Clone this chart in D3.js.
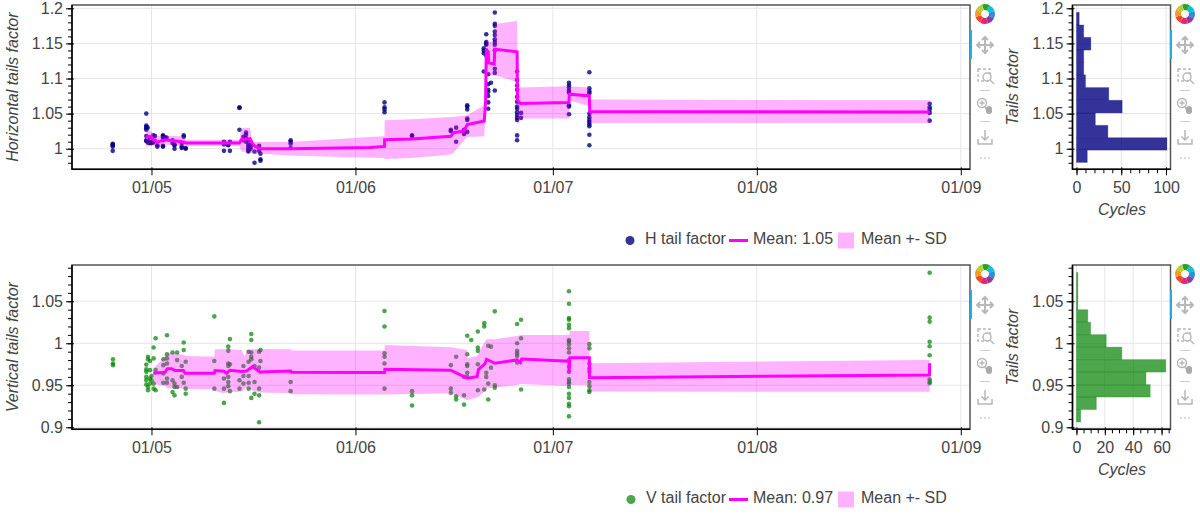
<!DOCTYPE html>
<html>
<head>
<meta charset="utf-8">
<script src="https://cdn.jsdelivr.net/npm/d3@7"></script>
<style>
  body { margin: 0; background: white; }
  text { font-family: "Liberation Sans", Arial, sans-serif; }
</style>
</head>
<body>
<svg id="chart" width="1200" height="520"></svg>
<script>
// days since 1 May, one entry per column of samples
var hDays = [-5.89, -0.79, -0.58, -0.33, 0, 0.28, 0.53, 0.89, 1.75, 2.05, 2.3, 3.2, 3.5, 4.6, 4.9, 5.2,
  11.01, 11.67, 11.92, 13.37, 13.97, 14.37, 14.72, 15.07, 15.66, 16.36, 16.56, 21.15,
  35.42, 39.6, 45.5, 46.3, 47.5, 47.99, 50.5, 50.88, 51.18, 51.6, 52.18, 55.57, 56.17, 63.45, 66.55, 118.27]
var hValues = [
  [1.007, 1.006, 1.005, 1.003, 0.997],
  [1.05, 1.033, 1.031, 1.029, 1.027, 1.018, 1.012, 1.011],
  [1.03, 1.014, 1.009],
  [1.016, 1.009, 1.008],
  [1.008, 1.01],
  [1.019, 1.011, 1.009],
  [1.018, 1.011],
  [1.005, 1.003],
  [1.019, 1.018, 1.016, 1.012, 1.004, 1.003],
  [1.016, 1.014],
  [1.016],
  [1.012, 1.008],
  [1.006, 1.005, 1.0],
  [1.008, 1.003, 1.001],
  [1.019, 1.017],
  [1.0, 1.001],
  [1.01, 1.006, 0.997],
  [1.006, 1.005],
  [1.01, 0.997],
  [1.059, 1.058, 1.027],
  [1.017, 1.012],
  [1.023, 1.02, 1.015, 1.01],
  [1.012, 1.006, 1.003, 1.0, 0.998, 0.996],
  [1.006, 1.003, 1.0],
  [0.996, 0.98],
  [1.004, 0.997],
  [0.993, 0.985, 0.983],
  [1.012, 1.01, 1.007, 1.001],
  [1.066, 1.059, 1.056, 1.052],
  [1.019, 1.018],
  [1.027, 1.025],
  [1.03, 1.01],
  [1.027, 1.021],
  [1.062, 1.06, 1.056, 1.043, 1.041, 1.024],
  [1.143, 1.14, 1.136, 1.11],
  [1.163, 1.152, 1.15, 1.148, 1.14, 1.137, 1.133],
  [1.106, 1.092, 1.084, 1.081, 1.075, 1.066, 1.057],
  [1.094],
  [1.194, 1.178, 1.175, 1.167, 1.162, 1.156, 1.152, 1.148, 1.14, 1.114, 1.108, 1.083],
  [1.11, 1.098, 1.09, 1.084, 1.074, 1.067, 1.06, 1.057, 1.052, 1.048, 1.044, 1.041, 1.019, 1.012],
  [1.051, 1.044],
  [1.094, 1.09, 1.087, 1.083, 1.08, 1.062, 1.06, 1.049],
  [1.109, 1.086, 1.082, 1.079, 1.05, 1.045, 1.041, 1.038, 1.035, 1.032, 1.02, 1.005],
  [1.064, 1.059, 1.056, 1.051, 1.04]
]

var hMeanDays = [-0.79, -0.6, 0, 0.28, 0.89, 2.05, 3.3, 4.9, 5.2, 13.37, 13.67, 14.97, 15.36, 15.76, 16.56, 21.15,
  33.22, 35.42, 35.43, 39.6, 45.5, 45.9, 47.5, 47.99, 50.58, 50.78, 50.88, 51.18, 51.23, 52.08, 52.18, 55.57, 55.62, 56.07, 63.45, 63.5, 66.55, 66.6, 118.27]
var hMean = [1.0143, 1.0176, 1.0167, 1.013, 1.0095, 1.0129, 1.0115, 1.0095, 1.0081, 1.0081, 1.0129, 1.0143, 1.0071, 1.0033, 1.0, 1.0,
  1.0019, 1.0033, 1.0129, 1.0138, 1.0176, 1.0229, 1.0252, 1.0343, 1.0395, 1.0676, 1.1395, 1.138, 1.1224, 1.1205, 1.1419, 1.138, 1.069, 1.0643, 1.0657, 1.0776, 1.0752, 1.0529, 1.0523]
var hUpper = [1.0286, 1.0286, 1.024, 1.021, 1.018, 1.018, 1.018, 1.0176, 1.0129, 1.0129, 1.029, 1.03, 1.009, 1.0095, 1.0095, 1.0095,
  1.0167, 1.0176, 1.0405, 1.0419, 1.0452, 1.0452, 1.0471, 1.0476, 1.0619, 1.0738, 1.157, 1.1548, 1.152, 1.152, 1.1776, 1.1819, 1.0871, 1.0871, 1.089, 1.089, 1.0871, 1.07, 1.069]
var hLower = [1.0, 1.004, 1.009, 1.005, 1.002, 1.006, 1.005, 1.004, 1.0043, 1.0043, 0.996, 0.9952, 0.993, 0.993, 0.9929, 0.9905,
  0.9871, 0.9867, 0.9852, 0.9867, 0.9919, 0.9938, 1.0119, 1.0167, 1.0176, 1.0619, 1.1048, 1.1048, 1.1048, 1.1048, 1.1048, 1.0952, 1.0333, 1.0429, 1.0429, 1.069, 1.0605, 1.0367, 1.0366]

var vDays = [-5.85, -0.79, -0.53, -0.23, 0, 0.33, 0.63, 1.8, 2.36, 3.2, 3.5, 3.9, 4.6, 4.9, 5.2, 9.55, 11.01, 11.67, 11.92,
  13.37, 13.97, 14.77, 15.17, 15.66, 16.36, 16.56, 21.15, 35.42, 39.6, 45.5, 46.3, 47.5, 47.99, 48.6, 49.6, 50.58, 50.88, 51.18, 51.6, 52.18, 55.57, 56.17, 63.45, 66.55, 118.27]
var vValues = [
  [0.981, 0.976, 0.974],
  [0.9746, 0.969, 0.966, 0.96, 0.956, 0.951],
  [0.984, 0.981, 0.948, 0.944],
  [0.979, 0.968, 0.958, 0.952],
  [0.961, 0.956],
  [0.995, 0.982, 0.952, 0.946],
  [1.006, 0.968, 0.944],
  [0.981, 0.974, 0.964, 0.953],
  [1.0095, 0.987, 0.982, 0.976, 0.958, 0.953],
  [0.989, 0.956, 0.942],
  [0.952, 0.948, 0.938],
  [0.989, 0.98, 0.948],
  [0.973, 0.96],
  [1.001, 0.992, 0.953],
  [0.978, 0.946, 0.94],
  [1.032, 0.979, 0.946],
  [0.958, 0.946, 0.929],
  [0.996, 0.991, 0.976, 0.973, 0.96, 0.954, 0.949],
  [1.005, 0.975, 0.943],
  [0.956, 0.946],
  [0.973, 0.961, 0.952],
  [0.99, 0.978, 0.961, 0.953, 0.946],
  [1.011, 1.004, 0.989, 0.984, 0.981, 0.935],
  [0.973, 0.954, 0.94],
  [0.99, 0.971, 0.946, 0.938, 0.906],
  [0.992, 0.979],
  [0.954, 0.943],
  [1.0385, 1.02, 0.988, 0.984, 0.976, 0.946],
  [0.943, 0.938, 0.926],
  [0.974, 0.946, 0.941],
  [0.984, 0.937, 0.933],
  [0.96, 0.938, 0.927],
  [1.009, 0.987, 0.975, 0.973, 0.965, 0.96],
  [1.004],
  [1.014, 0.995, 0.991, 0.975, 0.944],
  [1.024, 1.02, 0.945],
  [0.965, 0.96],
  [0.997, 0.952, 0.933],
  [0.996, 0.971],
  [1.038, 0.95, 0.947],
  [1.023, 1.0, 0.991, 0.988, 0.985, 0.977],
  [1.028, 1.006, 0.945],
  [1.062, 1.047, 1.03, 1.028, 1.022, 1.018, 1.004, 1.002, 0.999, 0.994, 0.989, 0.98, 0.972, 0.966, 0.957, 0.954, 0.952, 0.948, 0.94, 0.935, 0.928, 0.925, 0.913],
  [0.999, 0.994, 0.976, 0.97, 0.966, 0.954, 0.949, 0.944, 0.942],
  [1.084, 1.0305, 1.0257, 1.0019, 0.9964, 0.9857, 0.9571, 0.9543, 0.9524]
]

var vMeanDays = [0.28, 2.05, 2.41, 3.07, 3.58, 4.85, 5.1, 9.55, 9.65, 11.01, 11.42, 11.92, 13.7, 14.2, 14.47, 15.36, 16.46, 21.15, 21.3,
  33.22, 35.42, 35.47, 45.5, 47.99, 48.04, 49.5, 49.7, 50.68, 50.93, 52.18, 55.57, 56.07, 56.27, 63.45, 63.47, 63.6, 66.55, 66.57, 118.24, 118.27]
var vMean = [0.9643, 0.9655, 0.9698, 0.9698, 0.9675, 0.9675, 0.9643, 0.9643, 0.9675, 0.9667, 0.9643, 0.9679, 0.9663, 0.9667, 0.9671, 0.9722, 0.9659, 0.9671, 0.9655,
  0.9651, 0.9651, 0.969, 0.9679, 0.9583, 0.9583, 0.9603, 0.969, 0.9754, 0.981, 0.9762, 0.9802, 0.977, 0.9813, 0.9786, 0.9651, 0.9829, 0.9829, 0.9591, 0.9623, 0.9762]
var vUpper = [0.9702, 0.9833, 0.9881, 0.9889, 0.9881, 0.9861, 0.9849, 0.9841, 0.9929, 0.9929, 0.9929, 0.9929, 0.9921, 0.9841, 0.9921, 0.9929, 0.9933, 0.9929, 0.9913,
  0.9913, 0.9913, 0.998, 0.9952, 0.9921, 0.9821, 0.9849, 0.9881, 1.002, 1.0048, 1.0048, 1.0087, 1.0099, 1.0099, 1.0099, 1.0099, 1.0147, 1.0147, 0.9762, 0.9801, 0.9801]
var vLower = [0.9516, 0.9492, 0.9464, 0.9464, 0.9464, 0.946, 0.946, 0.9452, 0.9433, 0.9405, 0.9413, 0.9417, 0.9425, 0.9464, 0.9464, 0.9437, 0.9413, 0.9405, 0.9393,
  0.9389, 0.9389, 0.9389, 0.9405, 0.9325, 0.9325, 0.9357, 0.9365, 0.9433, 0.9464, 0.9472, 0.9504, 0.9516, 0.9516, 0.9492, 0.9492, 0.9504, 0.9504, 0.9425, 0.9424, 0.9424]

// histogram counts, top bin first
var hBinEdges = [1.1943, 1.1762, 1.1586, 1.1405, 1.1229, 1.1052, 1.0871, 1.069, 1.051, 1.0333, 1.0157, 0.998, 0.9805]
var hCounts = [3, 8, 16, 8, 8, 10, 36, 51, 21, 35, 101, 12]
var vBinEdges = [1.0845, 1.0697, 1.0548, 1.04, 1.0251, 1.0103, 0.9954, 0.9806, 0.9657, 0.9508, 0.936, 0.9211, 0.9063]
var vCounts = [1, 1, 1, 8, 10, 21, 32, 63, 49, 52, 14, 3]

var xTickDays = [0, 31, 61, 92, 123]

var svg = d3.select("#chart")
var startDate = Date.UTC(2022, 4, 1)
var toDate = d => new Date(startDate + d * 864e5)

var dims = {
  mainLeft: 72, mainRight: 970,
  histLeft: 1072.5, histRight: 1170.5,
  top: [5, 265], bottom: [169.3, 429.3]
}

var textColor = "#444"
var gridColor = "#e5e5e5"

function frame(g, x0, x1, y0, y1) {
  g.append("rect")
    .attr("x", x0).attr("y", y0)
    .attr("width", x1 - x0).attr("height", y1 - y0)
    .attr("fill", "none")
    .attr("stroke", "#555")
    .attr("stroke-width", 1.5)
  g.append("line").attr("x1", x0).attr("x2", x0).attr("y1", y0).attr("y2", y1 + 0.5)
    .attr("stroke", "black").attr("stroke-width", 1.5)
  g.append("line").attr("x1", x0).attr("x2", x1).attr("y1", y1).attr("y2", y1)
    .attr("stroke", "black").attr("stroke-width", 1.5)
}

function grid(g, xs, ys, xScale, yScale) {
  var r = xScale.range(), d = yScale.range()
  g.selectAll(".gx").data(xs).enter().append("line")
    .attr("x1", v => xScale(v)).attr("x2", v => xScale(v))
    .attr("y1", d[0]).attr("y2", d[1])
    .attr("stroke", gridColor)
  g.selectAll(".gy").data(ys).enter().append("line")
    .attr("x1", r[0]).attr("x2", r[1])
    .attr("y1", v => yScale(v)).attr("y2", v => yScale(v))
    .attr("stroke", gridColor)
}

function styleAxis(a) {
  a.select(".domain").remove()
  a.selectAll("line").attr("stroke", "black")
  a.selectAll("text")
    .attr("fill", textColor)
    .style("font-size", "16px")
    .style("font-family", '"Liberation Sans", Arial, sans-serif')
}

function yAxes(g, yScale, x0, majors, minors) {
  var minor = g.append("g").attr("transform", `translate(${x0},0)`)
    .call(d3.axisLeft(yScale).tickValues(minors).tickSize(4).tickFormat(""))
  minor.select(".domain").remove()
  minor.selectAll("line").attr("stroke", "black")

  var major = g.append("g").attr("transform", `translate(${x0},0)`)
    .call(d3.axisLeft(yScale).tickValues(majors).tickSizeInner(6).tickPadding(3).tickFormat(d3.format("~g")))
  styleAxis(major)
  major.selectAll("line").attr("x2", 2).attr("x1", -6)
}

function xAxis(g, xScale, y1, majors, minors, fmt) {
  if (minors) {
    var minor = g.append("g").attr("transform", `translate(0,${y1})`)
      .call(d3.axisBottom(xScale).tickValues(minors).tickSize(4).tickFormat(""))
    minor.select(".domain").remove()
    minor.selectAll("line").attr("stroke", "black")
  }
  var major = g.append("g").attr("transform", `translate(0,${y1})`)
    .call(d3.axisBottom(xScale).tickValues(majors).tickSizeInner(6).tickPadding(6).tickFormat(fmt))
  styleAxis(major)
  major.selectAll("line").attr("y1", -2).attr("y2", 6)
}

function axisLabel(x, y, txt, rotate) {
  svg.append("text")
    .attr("transform", `translate(${x},${y})` + (rotate ? " rotate(-90)" : ""))
    .attr("text-anchor", "middle")
    .attr("fill", textColor)
    .style("font-size", "16px")
    .style("font-style", "italic")
    .text(txt)
}

function mainPanel(row, cfg) {
  var top = dims.top[row], bottom = dims.bottom[row]
  var x = d3.scaleUtc()
    .domain([toDate(-12.08), toDate(124.4)])
    .range([dims.mainLeft, dims.mainRight])
  var y = d3.scaleLinear().domain(cfg.yDomain).range([bottom, top])
  var g = svg.append("g")

  grid(g, xTickDays.map(toDate), cfg.majors, x, y)

  var points = cfg.days.flatMap((d, i) => cfg.values[i].map(v => [d, v]))
  g.append("g").selectAll("circle").data(points).enter().append("circle")
    .attr("cx", p => x(toDate(p[0])))
    .attr("cy", p => y(p[1]))
    .attr("r", 2.3)
    .attr("fill", cfg.color)
    .attr("fill-opacity", cfg.alpha)

  var band = d3.area()
    .x((d, i) => x(toDate(cfg.meanDays[i])))
    .y0((d, i) => y(cfg.lower[i]))
    .y1((d, i) => y(cfg.upper[i]))
  g.append("path").attr("d", band(cfg.meanDays))
    .attr("fill", "magenta").attr("fill-opacity", 0.3)

  var line = d3.line()
    .x((d, i) => x(toDate(cfg.meanDays[i])))
    .y((d, i) => y(cfg.mean[i]))
  g.append("path").attr("d", line(cfg.meanDays))
    .attr("fill", "none").attr("stroke", "magenta").attr("stroke-width", 3)
    .attr("stroke-linejoin", "miter")

  frame(g, dims.mainLeft, dims.mainRight, top, bottom)
  yAxes(g, y, dims.mainLeft, cfg.majors, cfg.minors)
  xAxis(g, x, bottom, xTickDays.map(toDate), null, d3.utcFormat("%d/%m"))
  axisLabel(cfg.labelX, (top + bottom) / 2, cfg.yLabel, true)
}

function histPanel(row, cfg) {
  var top = dims.top[row], bottom = dims.bottom[row]
  var x = d3.scaleLinear().domain(cfg.xDomain).range([dims.histLeft, dims.histRight])
  var y = d3.scaleLinear().domain(cfg.yDomain).range([bottom, top])
  var g = svg.append("g")

  grid(g, cfg.xMajors, cfg.majors, x, y)

  g.append("g").selectAll("rect").data(cfg.counts).enter().append("rect")
    .attr("x", x(0))
    .attr("y", (d, i) => y(cfg.edges[i]))
    .attr("width", d => x(d) - x(0))
    .attr("height", (d, i) => y(cfg.edges[i + 1]) - y(cfg.edges[i]))
    .attr("fill", cfg.color)
    .attr("fill-opacity", cfg.alpha)
    .attr("stroke", cfg.color)
    .attr("stroke-opacity", 0.25)

  frame(g, dims.histLeft, dims.histRight, top, bottom)
  yAxes(g, y, dims.histLeft, cfg.majors, cfg.minors)
  xAxis(g, x, bottom, cfg.xMajors, cfg.xMinors, d3.format("d"))
  axisLabel(1018, (top + bottom) / 2, "Tails factor", true)
  axisLabel(1122, bottom + 46, "Cycles", false)
}

function legend(y, circleX, labelX, name, mean, color, alpha) {
  var g = svg.append("g").style("font-size", "16px").attr("fill", textColor)
  g.append("circle").attr("cx", circleX).attr("cy", y + 0.5).attr("r", 4.5)
    .attr("fill", color).attr("fill-opacity", alpha)
  g.append("text").attr("x", labelX).attr("y", y + 4).text(name)
  g.append("line").attr("x1", 729).attr("x2", 748).attr("y1", y + 0.5).attr("y2", y + 0.5)
    .attr("stroke", "magenta").attr("stroke-width", 3)
  g.append("text").attr("x", 753).attr("y", y + 4).text(mean)
  g.append("rect").attr("x", 838).attr("y", y - 7.5).attr("width", 16).attr("height", 16)
    .attr("fill", "magenta").attr("fill-opacity", 0.3)
  g.append("text").attr("x", 861).attr("y", y + 4).text("Mean +- SD")
}

function toolbar(cx, dy) {
  var g = svg.append("g").attr("transform", `translate(${cx},${dy})`)
  var iconColor = "#b8b8b8"

  // logo wheel
  var colors = ["#2ca02c", "#17becf", "#2b8fd8", "#8e3aa0", "#e0247a", "#f0492e", "#f59b23", "#b5d334"]
  var arc = d3.arc().innerRadius(4).outerRadius(10)
  colors.forEach(function (c, i) {
    g.append("path")
      .attr("transform", "translate(0,14)")
      .attr("d", arc({ startAngle: i * Math.PI / 4 - 0.3, endAngle: (i + 1) * Math.PI / 4 - 0.3 }))
      .attr("fill", c)
  })

  // pan
  var pan = g.append("g").attr("transform", "translate(0,45)")
    .attr("stroke", iconColor).attr("stroke-width", 2).attr("fill", "none")
  pan.append("path").attr("d", "M-8,0H8M0,-8V8M-3,-5L0,-8L3,-5M-3,5L0,8L3,5M-5,-3L-8,0L-5,3M5,-3L8,0L5,3")

  // box zoom
  var box = g.append("g").attr("transform", "translate(0,76)")
    .attr("stroke", iconColor).attr("stroke-width", 1.5).attr("fill", "none")
  box.append("rect").attr("x", -7).attr("y", -7).attr("width", 12).attr("height", 12).attr("stroke-dasharray", "3,2")
  box.append("circle").attr("cx", 2).attr("cy", 1).attr("r", 4).attr("fill", "white")
  box.append("path").attr("d", "M5,4L9,8")

  g.append("line").attr("x1", -5).attr("x2", 5).attr("y1", 90.5).attr("y2", 90.5).attr("stroke", "#ccc")

  // wheel zoom
  var wheel = g.append("g").attr("transform", "translate(0,106)")
    .attr("stroke", iconColor).attr("stroke-width", 1.5).attr("fill", "none")
  wheel.append("circle").attr("cx", -3).attr("cy", -3).attr("r", 4.5)
  wheel.append("path").attr("d", "M-5.5,-3H-0.5M-3,-5.5V-0.5M0,1L4,7")
  wheel.append("rect").attr("x", 1).attr("y", 0).attr("width", 6).attr("height", 8).attr("rx", 3)
    .attr("fill", "#aaa").attr("stroke", "none")

  g.append("line").attr("x1", -5).attr("x2", 5).attr("y1", 121.5).attr("y2", 121.5).attr("stroke", "#ccc")

  // save
  g.append("path").attr("transform", "translate(0,137)")
    .attr("d", "M0,-7V3M-3.5,-0.5L0,3L3.5,-0.5M-7,2V7H7V2")
    .attr("stroke", iconColor).attr("stroke-width", 1.5).attr("fill", "none")

  // more
  g.selectAll(".dot").data([-4, 0, 4]).enter().append("circle")
    .attr("cx", d => d).attr("cy", 158).attr("r", 0.8).attr("fill", "#aaa")

  // active tool marker
  g.append("rect").attr("x", -15).attr("y", 30).attr("width", 2).attr("height", 29).attr("fill", "#26aae1")
}

mainPanel(0, {
  yDomain: [0.9707, 1.2047], majors: [1, 1.05, 1.1, 1.15, 1.2],
  minors: d3.range(98, 121).map(d => d / 100),
  days: hDays, values: hValues, color: "#000080", alpha: 0.8,
  meanDays: hMeanDays, mean: hMean, upper: hUpper, lower: hLower,
  yLabel: "Horizontal tails factor", labelX: 18
})
mainPanel(1, {
  yDomain: [0.8976, 1.0932], majors: [0.9, 0.95, 1, 1.05],
  minors: d3.range(90, 110).map(d => d / 100),
  days: vDays, values: vValues, color: "#008000", alpha: 0.7,
  meanDays: vMeanDays, mean: vMean, upper: vUpper, lower: vLower,
  yLabel: "Vertical tails factor", labelX: 18
})
histPanel(0, {
  yDomain: [0.9707, 1.2047], majors: [1, 1.05, 1.1, 1.15, 1.2],
  minors: d3.range(98, 121).map(d => d / 100),
  xDomain: [-4.5, 105], xMajors: [0, 50, 100], xMinors: d3.range(0, 101, 10),
  edges: hBinEdges, counts: hCounts, color: "#000080", alpha: 0.8
})
histPanel(1, {
  yDomain: [0.8976, 1.0932], majors: [0.9, 0.95, 1, 1.05],
  minors: d3.range(90, 110).map(d => d / 100),
  xDomain: [-2.8, 66.3], xMajors: [0, 20, 40, 60], xMinors: d3.range(0, 66, 5),
  edges: vBinEdges, counts: vCounts, color: "#008000", alpha: 0.7
})

legend(240, 630, 645, "H tail factor", "Mean: 1.05", "#000080", 0.8)
legend(499, 631, 646, "V tail factor", "Mean: 0.97", "#008000", 0.7)

toolbar(985, 0)
toolbar(1185, 0)
toolbar(985, 260)
toolbar(1185, 260)
</script>
</body>
</html>
